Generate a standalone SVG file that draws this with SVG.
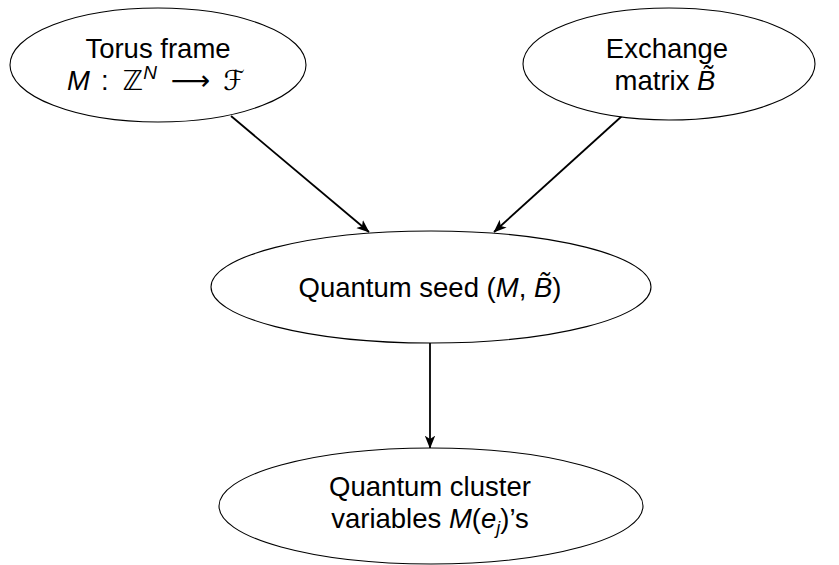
<svg xmlns="http://www.w3.org/2000/svg" width="839" height="565" viewBox="0 0 839 565">
<style>
.node ellipse{fill:#fff;stroke:#000;stroke-width:1.1}
.lbl{font-family:"Liberation Sans","DejaVu Sans",sans-serif;font-size:27.5px;fill:#000;text-anchor:middle}
.it{font-style:italic}
.edge{fill:none;stroke:#000;stroke-width:1.8;marker-end:url(#arr)}
</style>
<defs>
<marker id="arr" viewBox="0 0 10 10" refX="9.5" refY="5" markerWidth="13" markerHeight="13" markerUnits="userSpaceOnUse" orient="auto">
<path d="M0,1 L10,5 L0,9 L2.5,5 z" fill="#000"/>
</marker>
</defs>
<rect width="839" height="565" fill="#fff"/>
<g id="connectors">
<line class="edge" x1="231" y1="116" x2="369" y2="232"/>
<line class="edge" x1="622" y1="116" x2="494" y2="232"/>
<line class="edge" x1="430" y1="343" x2="430" y2="448"/>
</g>
<g id="torus" class="node">
<ellipse cx="158" cy="65" rx="148" ry="57"/>
<text class="lbl" x="158" y="58">Torus frame</text>
<text class="lbl" x="156" y="90"><tspan class="it">M</tspan><tspan dx="11">:</tspan><tspan dx="14">ℤ</tspan><tspan class="it" font-size="19" dy="-11">N</tspan><tspan dy="11" dx="14">⟶</tspan><tspan class="it" dx="13">ℱ</tspan></text>
</g>
<g id="exchange" class="node">
<ellipse cx="669" cy="64" rx="146" ry="56"/>
<text class="lbl" x="667" y="58">Exchange</text>
<text class="lbl" x="665" y="90">matrix <tspan class="it">B̃</tspan></text>
</g>
<g id="seed" class="node">
<ellipse cx="431" cy="287" rx="220" ry="56"/>
<text class="lbl" x="430" y="297">Quantum seed (<tspan class="it">M</tspan>, <tspan class="it">B̃</tspan>)</text>
</g>
<g id="cluster" class="node">
<ellipse cx="431" cy="506" rx="212" ry="58"/>
<text class="lbl" x="430" y="496">Quantum cluster</text>
<text class="lbl" x="430" y="528">variables <tspan class="it">M</tspan>(<tspan class="it">e</tspan><tspan class="it" font-size="18" dy="6">j</tspan><tspan dy="-6">)’s</tspan></text>
</g>
</svg>
